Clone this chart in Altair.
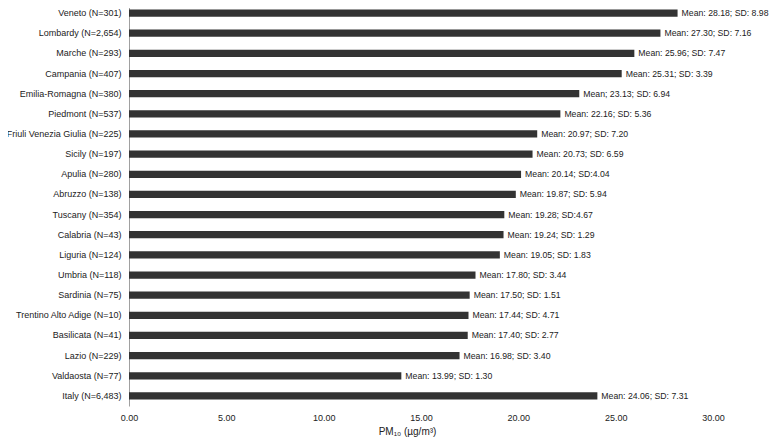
import altair as alt
import pandas as pd

regions = ["Veneto (N=301)", "Lombardy (N=2,654)", "Marche (N=293)", "Campania (N=407)",
           "Emilia-Romagna (N=380)", "Piedmont (N=537)", "Friuli Venezia Giulia (N=225)",
           "Sicily (N=197)", "Apulia (N=280)", "Abruzzo (N=138)", "Tuscany (N=354)",
           "Calabria (N=43)", "Liguria (N=124)", "Umbria (N=118)", "Sardinia (N=75)",
           "Trentino Alto Adige (N=10)", "Basilicata (N=41)", "Lazio (N=229)",
           "Valdaosta (N=77)", "Italy (N=6,483)"]
means = [28.18, 27.30, 25.96, 25.31, 23.13, 22.16, 20.97, 20.73, 20.14, 19.87,
         19.28, 19.24, 19.05, 17.80, 17.50, 17.44, 17.40, 16.98, 13.99, 24.06]
value_labels = ["Mean: 28.18; SD: 8.98", "Mean: 27.30; SD: 7.16", "Mean: 25.96; SD: 7.47",
                "Mean: 25.31; SD: 3.39", "Mean; 23.13; SD: 6.94", "Mean: 22.16; SD: 5.36",
                "Mean: 20.97; SD: 7.20", "Mean: 20.73; SD: 6.59", "Mean: 20.14; SD:4.04",
                "Mean: 19.87; SD: 5.94", "Mean: 19.28; SD:4.67", "Mean: 19.24; SD: 1.29",
                "Mean: 19.05; SD: 1.83", "Mean: 17.80; SD: 3.44", "Mean: 17.50; SD: 1.51",
                "Mean: 17.44; SD: 4.71", "Mean: 17.40; SD: 2.77", "Mean: 16.98; SD: 3.40",
                "Mean: 13.99; SD: 1.30", "Mean: 24.06; SD: 7.31"]
x_ticks = [0, 5, 10, 15, 20, 25, 30]

df = pd.DataFrame({"region": regions, "mean": means, "label": value_labels})

FONT = "Liberation Sans"

y = alt.Y("region:N", sort=regions, title=None,
          scale=alt.Scale(paddingInner=0.64, paddingOuter=0.32),
          axis=alt.Axis(ticks=False, domainColor="#a0a0a0", domainWidth=1,
                        labelFont=FONT, labelFontSize=9, labelColor="#222222",
                        labelPadding=8, labelLimit=0, grid=False))
x = alt.X("mean:Q", title="PM₁₀ (µg/m³)",
          scale=alt.Scale(domain=[0, 30], nice=False),
          axis=alt.Axis(values=x_ticks, format=".2f", domain=False, ticks=False,
                        grid=False, labelFont=FONT, labelFontSize=9,
                        labelFlush=False, labelBound=False,
                        labelColor="#222222", labelPadding=7,
                        titleFont=FONT, titleFontSize=10, titleFontWeight="normal",
                        titleColor="#222222", titleX=278, titleY=28,
                        titleBaseline="alphabetic", titleAlign="center"))

bars = alt.Chart(df).mark_bar(color="#333333").encode(x=x, y=y)
texts = alt.Chart(df).mark_text(align="left", baseline="middle", dx=4, font=FONT,
                                fontSize=8.7, color="#222222").encode(
    x="mean:Q", y=alt.Y("region:N", sort=regions), text="label:N")

chart = (bars + texts).properties(
    width=584, height=403,
    autosize=alt.AutoSizeParams(type="none"),
    padding={"left": 121, "top": -5, "right": 57, "bottom": 31},
    background="white",
).configure_view(stroke=None)

chart.save("out.html", embed_options={"renderer": "svg", "actions": False})
